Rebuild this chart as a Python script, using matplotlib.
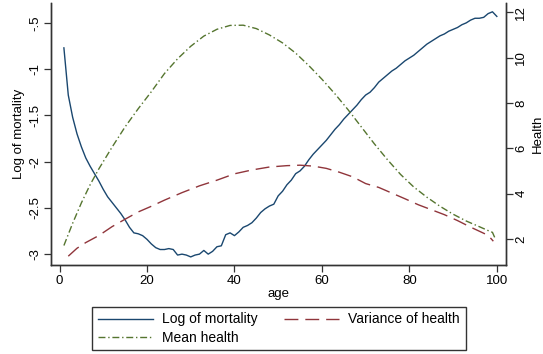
import matplotlib.pyplot as plt
from matplotlib.lines import Line2D

plt.rcParams['font.family'] = ['Liberation Sans', 'DejaVu Sans']

# --- data ---
mort_age = list(range(1, 101))
log_mortality = [
    -0.77, -1.28, -1.52, -1.70, -1.84, -1.96, -2.05, -2.13, -2.21, -2.30,
    -2.38, -2.44, -2.50, -2.56, -2.63, -2.71, -2.77, -2.78, -2.80, -2.84,
    -2.89, -2.93, -2.95, -2.95, -2.94, -2.95, -3.01, -3.00, -3.01, -3.03,
    -3.01, -3.00, -2.96, -3.00, -2.97, -2.92, -2.91, -2.79, -2.77, -2.80,
    -2.76, -2.71, -2.69, -2.66, -2.61, -2.55, -2.51, -2.48, -2.46, -2.37,
    -2.32, -2.25, -2.20, -2.13, -2.10, -2.05, -1.98, -1.92, -1.87, -1.82,
    -1.77, -1.71, -1.65, -1.60, -1.54, -1.49, -1.44, -1.39, -1.33, -1.28,
    -1.25, -1.20, -1.14, -1.10, -1.06, -1.02, -0.99, -0.95, -0.91, -0.88,
    -0.85, -0.81, -0.77, -0.73, -0.70, -0.67, -0.64, -0.62, -0.59, -0.57,
    -0.55, -0.52, -0.50, -0.47, -0.45, -0.45, -0.44, -0.40, -0.38, -0.43,
]

mean_age = [1, 3, 5, 7, 9, 12, 15, 18, 21, 24, 27, 30, 33, 36, 39, 42, 45,
            48, 51, 54, 57, 60, 63, 66, 69, 72, 75, 78, 81, 84, 87, 90, 93,
            96, 98, 99, 99.5]
mean_health = [1.72, 2.70, 3.60, 4.40, 5.10, 6.05, 6.95, 7.75, 8.50, 9.30,
               9.95, 10.50, 10.95, 11.25, 11.42, 11.43, 11.28, 11.00, 10.65,
               10.20, 9.65, 9.05, 8.40, 7.70, 6.95, 6.20, 5.50, 4.85, 4.30,
               3.85, 3.45, 3.10, 2.80, 2.55, 2.38, 2.30, 2.08]

var_age = [2, 4, 6, 9, 12, 15, 18, 21, 24, 28, 32, 36, 40, 44, 48, 52, 55,
           58, 61, 64, 67, 70, 73, 76, 79, 82, 85, 88, 91, 94, 96, 98, 99.2]
var_health = [1.25, 1.60, 1.85, 2.16, 2.55, 2.88, 3.20, 3.45, 3.72, 4.05,
              4.35, 4.60, 4.88, 5.05, 5.18, 5.24, 5.26, 5.22, 5.12, 4.95,
              4.75, 4.45, 4.28, 4.03, 3.78, 3.52, 3.30, 3.08, 2.82, 2.53,
              2.35, 2.17, 1.91]

left_ticks = [-0.5, -1, -1.5, -2, -2.5, -3]
left_labels = ['-.5', '-1', '-1.5', '-2', '-2.5', '-3']
right_ticks = [2, 4, 6, 8, 10, 12]
x_ticks = [0, 20, 40, 60, 80, 100]

navy = '#1a476f'
maroon = '#90353b'
green = '#55752f'
axis_col = '#333333'
fs = 9.5
lfs = 10

fig = plt.figure(figsize=(5.43, 3.54), dpi=100)
ax = fig.add_axes([0.094, 0.251, 0.837, 0.740])
ax2 = ax.twinx()

ax.plot(mort_age, log_mortality, color=navy, lw=1.0)
ax2.plot(var_age, var_health, color=maroon, lw=1.0, dashes=(10, 5))
ax2.plot(mean_age, mean_health, color=green, lw=1.0, dashes=(5, 2, 1, 2))

ax.set_xlim(-1.94, 101.99)
ax.set_ylim(-3.119, -0.287)
ax2.set_ylim(0.855, 12.4)

ax.set_xticks(x_ticks)
ax.set_yticks(left_ticks)
ax.set_yticklabels(left_labels, rotation=90, va='center')
ax2.set_yticks(right_ticks)
ax2.set_yticklabels([str(t) for t in right_ticks], rotation=90, va='center')

for a in (ax, ax2):
    a.spines['top'].set_visible(False)
    for s in ('left', 'right', 'bottom'):
        a.spines[s].set_color(axis_col)
        a.spines[s].set_linewidth(1.0)
    a.tick_params(labelsize=fs, length=5, width=0.9, color=axis_col, pad=2)

ax.set_xlabel('age', fontsize=fs, labelpad=1)
ax.set_ylabel('Log of mortality', fontsize=fs, labelpad=3)
ax2.set_ylabel('Health', fontsize=fs, labelpad=3)

handles = [
    Line2D([], [], color=navy, lw=1.0),
    Line2D([], [], color=green, lw=1.0, dashes=(5, 2, 1, 2)),
    Line2D([], [], color=maroon, lw=1.0, dashes=(10, 5)),
]
labels = ['Log of mortality', 'Mean health', 'Variance of health']
leg = fig.legend(handles, labels, ncol=2, loc='center',
                 bbox_to_anchor=(0.514, 0.072), fontsize=lfs,
                 handlelength=3.96, columnspacing=1.9, labelspacing=0.3,
                 borderpad=0.42, borderaxespad=0, handletextpad=0.65,
                 fancybox=False, framealpha=1)
leg.get_frame().set_edgecolor(axis_col)
leg.get_frame().set_linewidth(1.0)

fig.savefig('out.png', dpi=100)
